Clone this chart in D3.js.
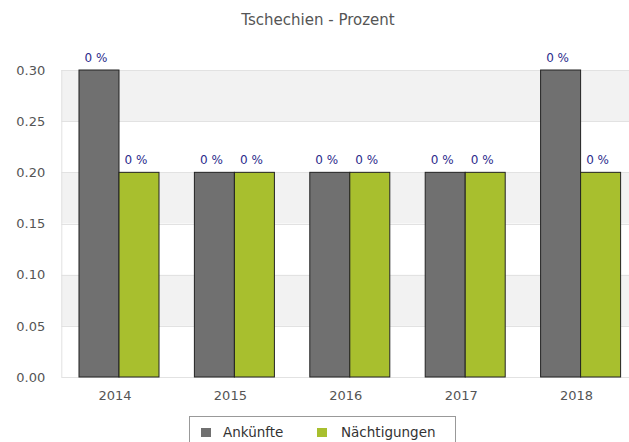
<!DOCTYPE html>
<html><head><meta charset="utf-8">
<script src="https://cdn.jsdelivr.net/npm/d3@7"></script>
<style>body{margin:0;background:#fff}svg{display:block;font-family:"DejaVu Sans",sans-serif}</style>
</head><body><svg id="c" width="629" height="442"></svg>
<script>
const years = ["2014","2015","2016","2017","2018"];
const seriesNames = ["Ankünfte","Nächtigungen"];
const ankuenfte = [0.3,0.2,0.2,0.2,0.3];
const naechtigungen = [0.2,0.2,0.2,0.2,0.2];
const valueLabels = ["0 %","0 %","0 %","0 %","0 %"];
const yTicks = [0,0.05,0.10,0.15,0.20,0.25,0.30];
const colors = ["#707070","#a8bf2e"];
const title = "Tschechien - Prozent";

const svg = d3.select("#c");
const L=61.3, R=638.3, T=70, B=377;
const y = d3.scaleLinear().domain([0,0.3]).range([B,T]);
const x0 = d3.scaleBand().domain(years).range([L,R]).paddingInner(0.3067).paddingOuter(0.1533);
const x1 = d3.scaleBand().domain(seriesNames).range([0,x0.bandwidth()]);

// bands
for(let i=0;i<yTicks.length-1;i++){
  if(i%2===1){
    svg.append("rect").attr("x",L).attr("width",R-L)
      .attr("y",y(yTicks[i+1])).attr("height",y(yTicks[i])-y(yTicks[i+1])).attr("fill","#f2f2f2");
  }
}
// grid
svg.append("g").selectAll("line").data(yTicks).join("line")
  .attr("x1",L).attr("x2",R).attr("y1",d=>Math.round(y(d))+0.5).attr("y2",d=>Math.round(y(d))+0.5)
  .attr("stroke","#e2e2e2");
svg.append("line").attr("x1",L+0.5).attr("x2",L+0.5).attr("y1",T).attr("y2",B).attr("stroke","#e2e2e2");

// y labels
const yAxis = d3.axisLeft(y).tickValues(yTicks).tickFormat(d3.format(".2f")).tickSize(0).tickPadding(16);
const ga = svg.append("g").attr("transform",`translate(${L},0)`).call(yAxis);
ga.select(".domain").remove();
ga.selectAll("text").attr("fill","#555").attr("font-size","13px").attr("font-family","DejaVu Sans");

// x labels
const xAxis = d3.axisBottom(x0).tickSize(0).tickPadding(14);
const gx = svg.append("g").attr("transform",`translate(-4,${B})`).call(xAxis);
gx.select(".domain").remove();
gx.selectAll("text").attr("fill","#555").attr("font-size","13px").attr("font-family","DejaVu Sans");

const data = years.map((yr,i)=>({yr, vals:[ankuenfte[i],naechtigungen[i]]}));
const g = svg.append("g").selectAll("g").data(data).join("g").attr("transform",d=>`translate(${x0(d.yr)},0)`);
g.selectAll("rect").data(d=>d.vals.map((v,k)=>({v,k}))).join("rect")
  .attr("x",d=>x1(seriesNames[d.k])).attr("width",x1.bandwidth())
  .attr("y",d=>y(d.v)).attr("height",d=>B-y(d.v))
  .attr("fill",d=>colors[d.k]).attr("stroke","#222").attr("stroke-width",1);
g.selectAll("text").data((d,i)=>d.vals.map((v,k)=>({v,k,i}))).join("text")
  .attr("x",d=>x1(seriesNames[d.k])+x1.bandwidth()/2-3).attr("y",d=>y(d.v)-8)
  .attr("text-anchor","middle").attr("font-size","12px").attr("fill","#2b2b8c")
  .text(d=>valueLabels[d.i]);

// title
svg.append("text").attr("x",318).attr("y",25).attr("text-anchor","middle")
  .attr("font-size","15px").attr("fill","#555").text(title);

// legend
svg.append("rect").attr("x",189.5).attr("y",416.5).attr("width",266).attr("height",40)
  .attr("fill","#fff").attr("stroke","#999");
const legX=[201,317], legTX=[223,341];
seriesNames.forEach((n,k)=>{
  svg.append("rect").attr("x",legX[k]).attr("y",428).attr("width",10).attr("height",9).attr("fill",colors[k]);
  svg.append("text").attr("x",legTX[k]).attr("y",437).attr("font-size","13.5px").attr("fill","#333").text(n);
});
</script></body></html>
